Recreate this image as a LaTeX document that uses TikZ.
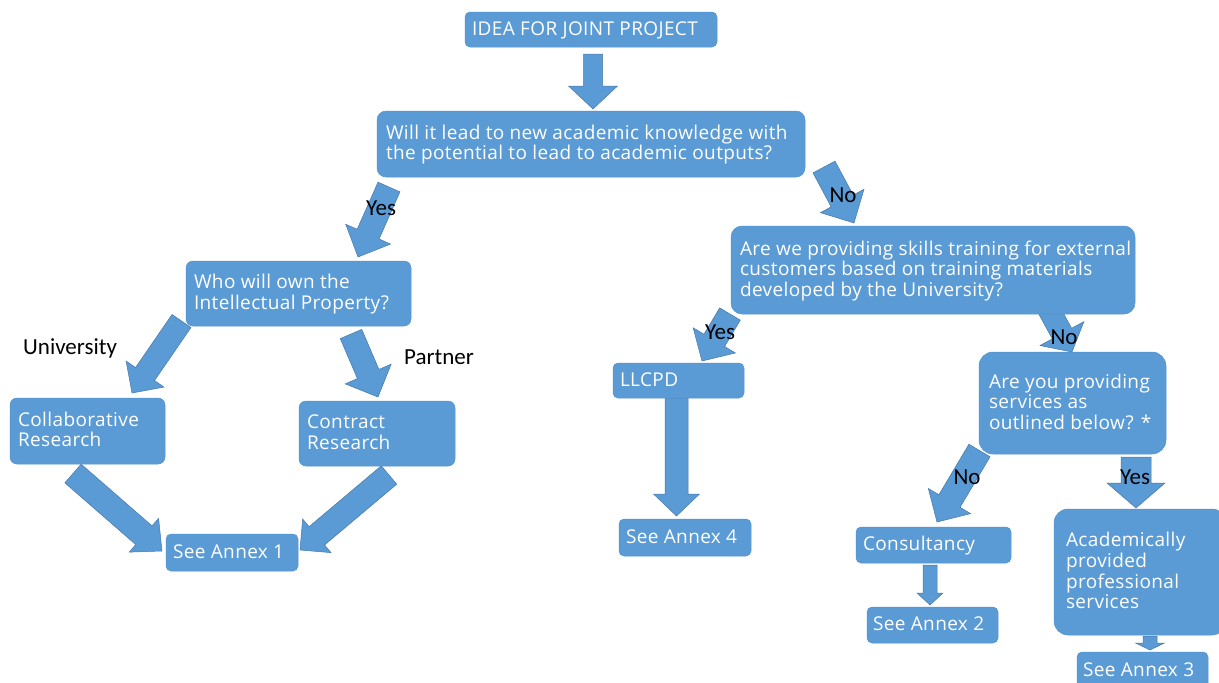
\documentclass[tikz,border=0pt]{standalone}
\usepackage{fontspec}
\setmainfont{Open Sans}[LetterSpace=2]
\newfontfamily\labelfont{Carlito}
\usetikzlibrary{calc}
\definecolor{boxblue}{HTML}{5B9BD5}
\definecolor{boxedge}{HTML}{5594CE}
\definecolor{arrowedge}{HTML}{4678A8}
\tikzset{
  box/.style={draw=boxedge, line width=0.5pt, fill=boxblue, rounded corners=7pt,
    text=white, font=\fontsize{19}{20.5}\selectfont, anchor=north west, inner ysep=0pt, outer sep=0pt},
  lbl/.style={font=\labelfont\fontsize{23}{26}\selectfont, text=black, inner sep=0pt},
  barrowstyle/.style={fill=boxblue, draw=arrowedge, line width=0.5pt, line join=miter}
}
% box: [options]{name}{x1}{y1}{x2}{y2}{left pad}{lines}
\newcommand\bx[8][]{%
  \pgfmathsetmacro\bxw{#5-#3}\pgfmathsetmacro\bxh{#6-#4}\pgfmathsetmacro\bxt{#5-#3-2*#7}%
  \node[box, minimum width=\bxw pt, minimum height=\bxh pt, inner xsep=#7pt, #1] (#2) at (#3,#4)
    {\makebox[\bxt pt][l]{\raisebox{0pt}[\dimexpr\height+3pt\relax][\depth]{\begin{tabular}{@{}l@{}}#8\end{tabular}}}};}
% block arrow: {tail}{tip}{shaft half width}{head half width}{head length}
\newcommand\blockarrow[5]{%
  \coordinate (ba-neck) at ($(#2)!#5!(#1)$);
  \draw[barrowstyle] ($(#1)!#3!90:(#2)$) -- ($(ba-neck)!#3!90:(#2)$) -- ($(ba-neck)!#4!90:(#2)$)
    -- (#2) -- ($(ba-neck)!#4!-90:(#2)$) -- ($(ba-neck)!#3!-90:(#2)$) -- ($(#1)!#3!-90:(#2)$) -- cycle;}
\begin{document}
\begin{tikzpicture}[x=1pt, y=-1pt]
\useasboundingbox[fill=white] (0,0) rectangle (1219,683);
\clip (0,0) rectangle (1219,683);
% arrow end points
\coordinate (t1) at (593,54);      \coordinate (h1) at (593,109);
\coordinate (t2) at (389,187);     \coordinate (h2) at (358,257);
\coordinate (t3) at (824,167);     \coordinate (h3) at (854,223);
\coordinate (t4) at (181.5,321);   \coordinate (h4) at (132,393);
\coordinate (t5) at (351,334);     \coordinate (h5) at (378,397);
\coordinate (t6) at (73,473.5);    \coordinate (h6) at (162,551);
\coordinate (t7) at (389,475);     \coordinate (h7) at (300,550);
\coordinate (t8) at (730,314);     \coordinate (h8) at (702,361);
\coordinate (t9) at (676.5,398);   \coordinate (h9) at (676.5,516);
\coordinate (t10) at (1048,308);   \coordinate (h10) at (1072,352);
\coordinate (t11) at (979.5,450.5);\coordinate (h11) at (937,522);
\coordinate (t12) at (1136,457);   \coordinate (h12) at (1136,508);
\coordinate (t13) at (930,565);    \coordinate (h13) at (930,605);
\coordinate (t14) at (1150,636);   \coordinate (h14) at (1150,650);
% block arrows
\blockarrow{t1}{h1}{9.5pt}{24.5pt}{23pt}
\blockarrow{t2}{h2}{12pt}{24.5pt}{25pt}
\blockarrow{t3}{h3}{12.5pt}{24.7pt}{25pt}
\blockarrow{t4}{h4}{11.5pt}{23pt}{23pt}
\blockarrow{t5}{h5}{11.7pt}{25pt}{25pt}
\blockarrow{t6}{h6}{12.4pt}{22.4pt}{24pt}
\blockarrow{t7}{h7}{12pt}{22pt}{22pt}
\blockarrow{t8}{h8}{12pt}{24.6pt}{24pt}
\blockarrow{t9}{h9}{11.5pt}{23pt}{22pt}
\blockarrow{t10}{h10}{11pt}{25pt}{21pt}
\blockarrow{t11}{h11}{12.3pt}{24.6pt}{24.4pt}
\blockarrow{t12}{h12}{15pt}{29pt}{25pt}
\blockarrow{t13}{h13}{7pt}{13pt}{12pt}
\blockarrow{t14}{h14}{7pt}{14.5pt}{7pt}
% boxes
\bx[rounded corners=5pt]{idea}{465}{12}{717}{47}{7}{IDEA FOR JOINT PROJECT}
\bx[rounded corners=9pt]{q1}{377}{111}{805}{177}{9}{Will it lead to new academic knowledge with\\the potential to lead to academic outputs?}
\bx{who}{186}{261}{411}{326}{8}{Who will own the\\Intellectual Property?}
\bx{collab}{10}{398}{165}{464}{8}{Collaborative\\Research}
\bx{contract}{299}{401}{455}{466}{8}{Contract\\Research}
\bx[rounded corners=5pt]{annex1}{166}{534}{298}{571}{7}{See Annex 1}
\bx[rounded corners=11pt]{q2}{731}{226}{1135}{314}{9}{Are we providing skills training for external\\customers based on training materials\\developed by the University?}
\bx[rounded corners=5pt]{llcpd}{613}{363}{744}{398}{7}{LLCPD}
\bx[rounded corners=5pt]{annex4}{619}{519}{751}{556}{7}{See Annex 4}
\bx[rounded corners=14pt]{q3}{979}{352}{1166}{454}{10}{Are you providing\\services as\\outlined below? *}
\bx[rounded corners=5pt]{consult}{856}{527}{1011}{563}{7}{Consultancy}
\bx[rounded corners=5pt]{annex2}{867}{607}{998}{643}{6}{See Annex 2}
\bx[rounded corners=14pt]{acad}{1054}{509}{1226}{635}{12}{Academically\\provided\\professional\\services}
\bx[rounded corners=5pt]{annex3}{1077}{652}{1208}{690}{6}{See Annex 3}
% labels
\node[lbl, anchor=base] (lyes1) at (381,215) {Yes};
\node[lbl, anchor=base] (lno1) at (843,202) {No};
\node[lbl, anchor=base] (lyes2) at (720,339) {Yes};
\node[lbl, anchor=base] (lno2) at (1064,344) {No};
\node[lbl, anchor=base] (lno3) at (967,484) {No};
\node[lbl, anchor=base] (lyes3) at (1135,484) {Yes};
\node[lbl, anchor=base west] (luni) at (23,354) {University};
\node[lbl, anchor=base west] (lpart) at (404,364) {Partner};
\end{tikzpicture}
\end{document}
